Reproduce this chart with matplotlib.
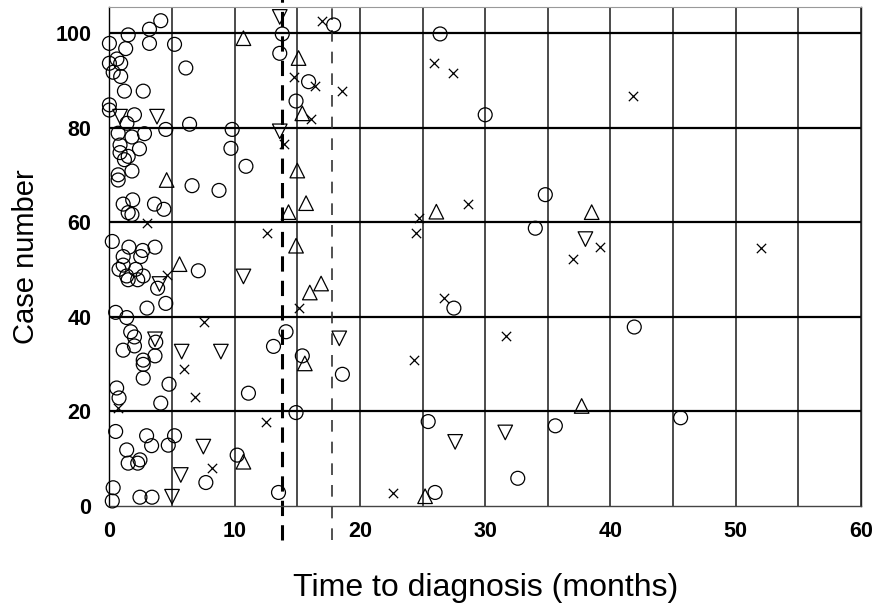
import matplotlib
matplotlib.use("Agg")
import matplotlib.pyplot as plt

plt.rcParams['font.family'] = ['Liberation Sans', 'DejaVu Sans']

# circles
circ_x = [4.1, 3.2, 1.5, 0.0, 1.3, 3.2, 5.2, 0.0, 0.6, 0.9, 0.3, 0.9, 6.1, 1.2, 2.7,
          0.0, 0.0, 2.0, 1.4, 6.4, 4.5, 2.8, 0.7, 1.8, 0.85, 2.4, 0.85, 1.5, 1.2, 1.8,
          0.7, 9.8, 9.7, 0.7, 6.6, 8.75, 1.1, 1.86, 1.5, 1.8, 3.6, 4.35, 0.23, 1.56, 2.66,
          3.64, 1.1, 2.5, 1.1, 0.77, 2.1, 1.38, 2.7, 1.5, 2.26, 3.85, 7.1, 4.5, 3.0,
          0.5, 1.38, 1.7, 2.0, 1.1, 2.0, 3.7, 2.7, 2.7, 3.64, 2.7, 4.76, 0.58, 0.77,
          4.1, 0.5, 2.97, 3.37, 5.2, 4.7, 1.38, 1.5, 2.26, 2.44, 0.3, 0.23, 2.44, 3.4,
          7.7, 10.2, 11.1, 13.8, 13.6, 15.9, 14.9, 10.9, 17.9, 14.1, 13.1, 15.4, 18.6,
          14.9, 13.5, 26.4, 30.0, 34.8, 34.0, 27.5, 41.9, 25.45, 35.6, 32.6, 26.0, 45.6]
circ_y = [102.6, 100.8, 99.6, 97.8, 96.7, 97.8, 97.6, 93.6, 94.5, 93.6, 91.7, 90.8, 92.6, 87.7, 87.7,
          84.8, 83.7, 82.7, 80.9, 80.7, 79.6, 78.7, 78.8, 78.0, 76.3, 75.5, 74.7, 73.9, 73.2, 70.8,
          70.0, 79.6, 75.6, 68.9, 67.7, 66.7, 63.8, 64.7, 62.0, 61.6, 63.8, 62.7, 55.9, 54.7, 54.0,
          54.7, 52.7, 52.7, 50.9, 50.0, 50.0, 48.6, 48.6, 47.8, 47.8, 46.0, 49.7, 42.8, 41.8,
          40.9, 39.8, 36.8, 35.7, 32.9, 33.8, 34.6, 30.8, 29.9, 31.7, 27.0, 25.7, 24.9, 22.8,
          21.7, 15.7, 14.8, 12.7, 14.8, 12.8, 11.8, 9.0, 9.0, 9.7, 3.8, 1.0, 1.8, 1.8,
          4.9, 10.7, 23.8, 99.8, 95.7, 89.7, 85.6, 71.8, 101.7, 36.8, 33.7, 31.7, 27.8,
          19.7, 2.8, 99.8, 82.7, 65.8, 58.7, 41.8, 37.8, 17.8, 16.9, 5.8, 2.8, 18.6]

# triangles up
tup_x = [10.7, 15.1, 15.4, 15.0, 15.7, 14.3, 14.9, 4.57, 5.6, 16.9, 16.0, 15.6, 10.7,
         26.1, 38.5, 37.7, 25.2]
tup_y = [98.9, 94.7, 83.0, 70.9, 64.0, 62.1, 55.0, 68.9, 51.1, 47.0, 45.1, 30.1, 9.3,
         62.2, 62.1, 21.1, 2.0]

# triangles down
tdn_x = [13.6, 13.6, 0.85, 3.8, 4.0, 10.7, 18.35, 3.64, 5.77, 8.9, 7.5, 5.7, 5.0,
         27.6, 31.6, 38.0]
tdn_y = [103.4, 79.2, 82.3, 82.3, 46.9, 48.5, 35.4, 35.2, 32.6, 32.6, 12.5, 6.5, 1.9,
         13.5, 15.5, 56.4]

# crosses
crs_x = [17.0, 14.7, 16.4, 18.6, 16.1, 13.9, 12.55, 3.0, 4.6, 15.1, 7.55, 5.95, 6.8,
         0.7, 12.5, 8.2, 25.9, 27.4, 41.8, 28.6, 24.7, 24.5, 39.2, 37.0, 52.0, 26.7,
         31.7, 24.3, 22.6]
crs_y = [102.6, 90.7, 88.7, 87.8, 81.8, 76.6, 57.6, 59.8, 48.7, 41.8, 38.8, 28.9, 22.9,
         20.7, 17.8, 7.9, 93.6, 91.6, 86.6, 63.8, 60.8, 57.6, 54.7, 52.2, 54.5, 43.9,
         35.8, 30.8, 2.75]

cut_thick = 13.8
cut_thin = 17.8

xticks = [0, 10, 20, 30, 40, 50, 60]
yticks = [0, 20, 40, 60, 80, 100]

fig = plt.figure(figsize=(8.81, 6.14), dpi=100)
ax = fig.add_axes([109.4 / 881, 1 - 505.7 / 614, (861 - 109.4) / 881, (505.7 - 7) / 614])

for v in range(5, 61, 5):
    ax.axvline(v, color='#1a1a1a', lw=1.1, zorder=1)
for h in [20, 40, 60, 80, 100]:
    ax.axhline(h, color='black', lw=1.6, zorder=1)

ax.plot([cut_thick, cut_thick], [-7.3, 107.5], color='black', lw=2.2,
        dashes=(5, 3), clip_on=False, zorder=2)
ax.plot([cut_thin, cut_thin], [-7.3, 107.5], color='#333333', lw=1.2,
        dashes=(7, 6), clip_on=False, zorder=2)

ax.scatter(circ_x, circ_y, s=100, marker='o', facecolors='none', edgecolors='black',
           linewidths=0.9, clip_on=False, zorder=3)
ax.scatter(tup_x, tup_y, s=110, marker='^', facecolors='none', edgecolors='black',
           linewidths=0.9, clip_on=False, zorder=3)
ax.scatter(tdn_x, tdn_y, s=110, marker='v', facecolors='none', edgecolors='black',
           linewidths=0.9, clip_on=False, zorder=3)
ax.scatter(crs_x, crs_y, s=45, marker='x', color='black',
           linewidths=0.9, clip_on=False, zorder=3)

ax.set_xlim(0, 60)
ax.set_ylim(0, 105.5)
ax.set_xticks(xticks)
ax.set_yticks(yticks)
ax.tick_params(length=0, labelsize=15.5)
ax.tick_params(axis='y', pad=13)
ax.tick_params(axis='x', pad=11)
for lab in ax.get_xticklabels() + ax.get_yticklabels():
    lab.set_fontweight('bold')

ax.spines['left'].set_color('black')
ax.spines['left'].set_linewidth(1.0)
ax.spines['bottom'].set_color('#444444')
ax.spines['bottom'].set_linewidth(1.0)
ax.spines['top'].set_color('#999999')
ax.spines['top'].set_linewidth(0.8)
ax.spines['right'].set_color('#222222')
ax.spines['right'].set_linewidth(1.0)

ax.set_xlabel('Time to diagnosis (months)', fontsize=23, labelpad=22)
ax.set_ylabel('Case number', fontsize=21, labelpad=11)

plt.savefig('out.png', dpi=100)
